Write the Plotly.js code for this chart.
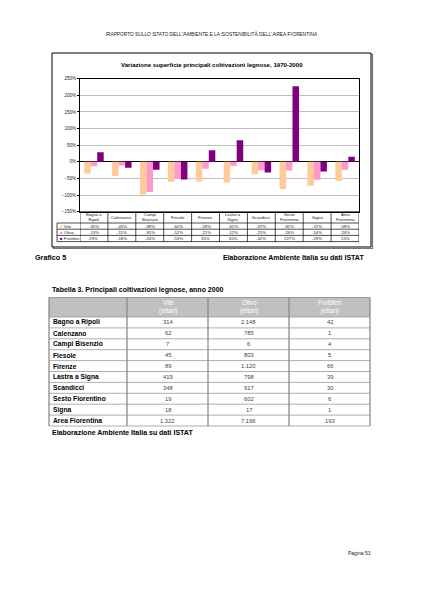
<!DOCTYPE html>
<html>
<head>
<meta charset="utf-8">
<script src="https://cdn.plot.ly/plotly-3.0.1.min.js"></script>
<style>html,body{margin:0;padding:0;background:#fff}#g{width:424px;height:599px}</style>
</head>
<body>
<div id="g"></div>
<script>
// ---- Chart data (Grafico 5) ----
const comuni = ["Bagno a Ripoli","Calenzano","Campi Bisenzio","Fiesole","Firenze","Lastra a Signa","Scandicci","Sesto Fiorentino","Signa","Area Fiorentina"];
const comuniLabel = ["Bagno a<br>Ripoli","Calenzano","Campi<br>Bisenzio","Fiesole","Firenze","Lastra a<br>Signa","Scandicci","Sesto<br>Fiorentino","Signa","Area<br>Fiorentina"];
const serie = ["Vite","Olivo","Fruttiferi"];
const vite = [-35,-43,-98,-60,-59,-62,-37,-82,-72,-58];
const olivo = [-13,-11,-91,-52,-21,-12,-25,-26,-54,-24];
const fruttiferi = [29,-18,-24,-53,35,65,-32,227,-29,15];
const colori = ["#FFCC99","#FF99CC","#800080"];

// ---- Tabella 3 data ----
const tabColonne = ["Vite<br>(ettari)","Olivo<br>(ettari)","Fruttiferi<br>(ettari)"];
const ettariVite = ["314","62","7","45","89","419","348","19","18","1.322"];
const ettariOlivo = ["2.148","785","6","803","1.120","798","917","602","17","7.196"];
const ettariFrutt = ["42","1","4","5","66","39","30","6","1","193"];

const W = 424, H = 599;
const px = x => x / W;
const py = y => 1 - y / H;
const FONT = "Liberation Sans, Arial, sans-serif";

const valori = [vite, olivo, fruttiferi];
const traces = serie.map((s, i) => ({
  type: "bar", name: s, x: comuni, y: valori[i],
  marker: {color: colori[i], line: {width: 0}},
  hoverinfo: "skip"
}));

const annotations = [];
const shapes = [];
const ann = (o) => annotations.push(Object.assign({xref: "paper", yref: "paper", showarrow: false, yanchor: "middle", xanchor: "center"}, o, {font: Object.assign({family: FONT}, o.font)}));
const line = (x0, y0, x1, y1, color, width, xref) => shapes.push({type: "line", xref: xref || "paper", yref: "paper", x0, y0, x1, y1, line: {color, width}});

// outer chart box (with slight shadow)
shapes.push({type: "rect", xref: "paper", yref: "paper", x0: px(53.5), x1: px(372.5), y0: py(248.5), y1: py(54.5), line: {color: "#777", width: 1.2}, layer: "below"});
shapes.push({type: "rect", xref: "paper", yref: "paper", x0: px(52), x1: px(371), y0: py(247), y1: py(53), line: {color: "#000", width: 1}, fillcolor: "#fff", layer: "below"});

// ---- data table under chart (grid via x-axis category scale) ----
const tTop = 211.7, tHead = 223, rowH = 6.2;
const tBot = tHead + rowH * serie.length;
const n = comuni.length;
for (let k = 0; k <= n; k++) line(k - 0.5, py(tTop), k - 0.5, py(tBot), "#000", 0.7, "x");
line(px(57), py(tHead), px(57), py(tBot), "#000", 0.7);
line(-0.5, py(tTop), n - 0.5, py(tTop), "#000", 0.7, "x");
for (let r = 0; r <= serie.length; r++) {
  line(px(57), py(tHead + r * rowH), px(359), py(tHead + r * rowH), "#000", 0.7);
}
comuni.forEach((c, j) => annotations.push({xref: "x", yref: "paper", x: c, y: py((tTop + tHead) / 2), text: comuniLabel[j], showarrow: false, font: {family: FONT, size: 4.2, color: "#222"}}));
serie.forEach((s, i) => {
  const yc = py(tHead + rowH * (i + 0.5));
  ann({text: "<span style='color:" + colori[i] + "'>■</span> " + s, x: px(58), y: yc, xanchor: "left", font: {size: 4.3, color: "#222"}});
  valori[i].forEach((v, j) => annotations.push({xref: "x", yref: "paper", x: comuni[j], y: yc, text: v + "%", showarrow: false, font: {family: FONT, size: 4.3, color: "#222"}}));
});

// ---- Tabella 3 ----
const xs = [49, 127, 208, 289, 370];
const hTop = 297.5, hBot = 317, rH = 10.9;
const tEnd = hBot + rH * comuni.length;
shapes.push({type: "rect", xref: "paper", yref: "paper", x0: px(xs[0]), x1: px(xs[4]), y0: py(hBot), y1: py(hTop), fillcolor: "#c0c0c0", line: {width: 0}, layer: "below"});
for (let r = 0; r <= comuni.length; r++) line(px(xs[0]), py(hBot + r * rH), px(xs[4]), py(hBot + r * rH), "#999", 0.8);
line(px(xs[0]), py(hTop), px(xs[4]), py(hTop), "#999", 1);
xs.forEach(x => line(px(x), py(hTop), px(x), py(tEnd), "#8a8a8a", 1.3));
tabColonne.forEach((t, k) => ann({text: t, x: px((xs[k + 1] + xs[k + 2]) / 2), y: py((hTop + hBot) / 2), font: {size: 6.4, color: "#fff"}}));
const tabVals = [ettariVite, ettariOlivo, ettariFrutt];
comuni.forEach((c, r) => {
  const yc = py(hBot + rH * (r + 0.5));
  ann({text: "<b>" + c + "</b>", x: px(xs[0] + 1.5), y: yc, xanchor: "left", font: {size: 6.7, color: "#000"}});
  tabVals.forEach((arr, k) => ann({text: arr[r], x: px((xs[k + 1] + xs[k + 2]) / 2), y: yc, font: {size: 5.8, color: "#444"}}));
});

// ---- page texts ----
const sc = (big, small) => big + "<span style='font-size:4.8px'>" + small + "</span>";
const header = [sc("R","APPORTO SULLO "), sc("S","TATO DELL"), "'", sc("A","MBIENTE E LA "), sc("S","OSTENIBILITÀ DELL"), "'", sc("A","REA "), sc("F","IORENTINA")].join("");
ann({text: header, x: px(212), y: py(33), font: {size: 6.2, color: "#222"}});
ann({text: "<b>Variazione superficie principali coltivazioni legnose, 1970-2000</b>", x: px(212), y: py(64), font: {size: 6.1, color: "#000"}});
ann({text: "<b>Grafico 5</b>", x: px(33), y: py(257), xanchor: "left", font: {size: 7.2, color: "#000"}});
ann({text: "<b>Elaborazione Ambiente Italia su dati ISTAT</b>", x: px(366), y: py(257), xanchor: "right", font: {size: 7, color: "#000"}});
ann({text: "<b>Tabella 3. Principali coltivazioni legnose, anno 2000</b>", x: px(50), y: py(290), xanchor: "left", font: {size: 7, color: "#000"}});
ann({text: "<b>Elaborazione Ambiente Italia su dati ISTAT</b>", x: px(50), y: py(432), xanchor: "left", font: {size: 7, color: "#000"}});
ann({text: "Pagina 53", x: px(346), y: py(553), xanchor: "left", font: {size: 5, color: "#222"}});

const layout = {
  width: W, height: H,
  margin: {l: 0, r: 0, t: 0, b: 0},
  paper_bgcolor: "#fff", plot_bgcolor: "#fff",
  showlegend: false,
  barmode: "group", bargap: 0.3, bargroupgap: 0,
  font: {family: FONT},
  xaxis: {
    domain: [px(80), px(359)], anchor: "y", range: [-0.5, n - 0.5],
    showticklabels: false, ticks: "", showgrid: false,
    showline: true, linecolor: "#000", linewidth: 1, mirror: true, fixedrange: true
  },
  yaxis: {
    domain: [py(tTop), py(78.7)], anchor: "x",
    range: [-150, 250], dtick: 50, ticksuffix: "%",
    tickfont: {size: 4.5, color: "#222", family: FONT},
    ticks: "outside", ticklen: 2, tickcolor: "#000",
    gridcolor: "#c0c0c0", gridwidth: 1,
    zeroline: true, zerolinecolor: "#000", zerolinewidth: 1,
    showline: true, linecolor: "#000", linewidth: 1, mirror: true, fixedrange: true
  },
  annotations: annotations,
  shapes: shapes
};

Plotly.newPlot("g", traces, layout, {displayModeBar: false, staticPlot: true});
</script>
</body>
</html>
